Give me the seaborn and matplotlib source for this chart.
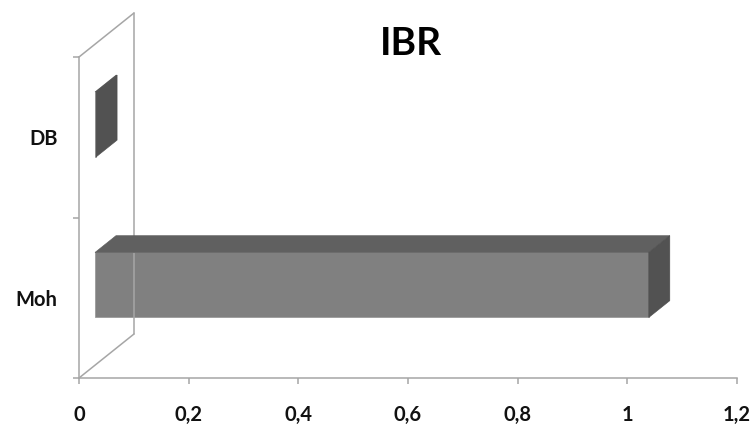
import numpy as np
import pandas as pd
import matplotlib
matplotlib.use('Agg')
import matplotlib.pyplot as plt
import seaborn as sns
from matplotlib.patches import Polygon
from matplotlib.lines import Line2D
import matplotlib.transforms as mtrans

# ---- data ----
categories = ['DB', 'Moh']
values = [0.002, 1.01]
x_ticks = [0, 0.2, 0.4, 0.6, 0.8, 1.0, 1.2]
x_tick_labels = ['0', '0,2', '0,4', '0,6', '0,8', '1', '1,2']
title = 'IBR'

# ---- style ----
sns.set_theme(style='white')
plt.rcParams['font.family'] = ['Lato', 'DejaVu Sans']

DPI = 100
W, H = 755, 428
FRONT = (16, 12.8)   # bar front face offset from front wall (px)
DEPTH = (21, 16.8)   # bar depth (px)
WALL = (55, 44)      # wall depth (px)
LINE_C = '#a6a6a6'
FACE_FRONT = '#808080'
FACE_TOP = '#606060'
FACE_SIDE = '#525252'

fig = plt.figure(figsize=(W / DPI, H / DPI), dpi=DPI)
ax = fig.add_axes([79 / W, 50 / H, 658 / W, 321 / H])

df = pd.DataFrame({'cat': categories, 'val': values})
sns.barplot(data=df, x='val', y='cat', orient='h', color=FACE_FRONT,
            saturation=1, width=0.405, ax=ax, zorder=3)

ax.set_xlim(0, 1.2)
ax.set_ylim(1.5, -0.5)

front_tr = mtrans.ScaledTranslation(FRONT[0] / DPI, FRONT[1] / DPI, fig.dpi_scale_trans)
ident = mtrans.IdentityTransform()

for p in list(ax.patches):
    x0, y0, w, h = p.get_x(), p.get_y(), p.get_width(), p.get_height()
    pts = ax.transData.transform([(x0, y0), (x0 + w, y0 + h)])
    xl, xr = pts[:, 0].min() + FRONT[0], pts[:, 0].max() + FRONT[0]
    yb, yt = pts[:, 1].min() + FRONT[1], pts[:, 1].max() + FRONT[1]
    dx, dy = DEPTH
    p.set_transform(ax.transData + front_tr)
    p.set_edgecolor('#9a9a9a')
    p.set_linewidth(0.6)
    top = Polygon([(xl, yt), (xr, yt), (xr + dx, yt + dy), (xl + dx, yt + dy)],
                  closed=True, facecolor=FACE_TOP, edgecolor='#5a5a5a', lw=0.4,
                  transform=ident, zorder=3)
    side = Polygon([(xr, yb), (xr, yt), (xr + dx, yt + dy), (xr + dx, yb + dy)],
                   closed=True, facecolor=FACE_SIDE, edgecolor='#4c4c4c', lw=0.4,
                   transform=ident, zorder=3)
    fig.add_artist(top)
    fig.add_artist(side)

# walls
corners = ax.transAxes.transform([(0, 0), (0, 1)])
(bx, by), (tx, ty) = corners
wall_lines = [
    [(bx + WALL[0], by + WALL[1]), (tx + WALL[0], ty + WALL[1])],
    [(tx, ty), (tx + WALL[0], ty + WALL[1])],
    [(bx, by), (bx + WALL[0], by + WALL[1])],
]
for seg in wall_lines:
    xs, ys = zip(*seg)
    fig.add_artist(Line2D(xs, ys, color=LINE_C, lw=1.1, transform=ident, zorder=1))

# spines
for s in ['top', 'right']:
    ax.spines[s].set_visible(False)
for s in ['left', 'bottom']:
    ax.spines[s].set_color(LINE_C)
    ax.spines[s].set_linewidth(1.1)
    ax.spines[s].set_zorder(1)

ax.set_xticks(x_ticks)
ax.set_xticklabels(x_tick_labels)
ax.set_yticks([-0.5, 0.5, 1.5])
ax.set_yticklabels([])
ax.set_yticks([0, 1], minor=True)
ax.set_yticklabels(categories, minor=True)
ax.tick_params(axis='x', which='major', length=4.3, width=1.1, color=LINE_C,
               direction='out', pad=15, labelsize=14.5, labelcolor='#111111', bottom=True)
ax.tick_params(axis='y', which='major', length=4.3, width=1.1, color=LINE_C,
               direction='out', left=True)
ax.tick_params(axis='y', which='minor', length=0, pad=15.5, labelsize=14.5,
               labelcolor='#111111', left=True)
for lab in ax.get_xticklabels() + ax.get_yticklabels(minor=True):
    lab.set_fontweight('bold')

ax.set_xlabel('')
ax.set_ylabel('')
ax.patch.set_alpha(0)

fig.text(411 / W, 1 - 55 / H, title, ha='center', va='baseline',
         fontsize=28, fontweight='bold', color='black')

fig.savefig('out.png', dpi=DPI, facecolor='white')
